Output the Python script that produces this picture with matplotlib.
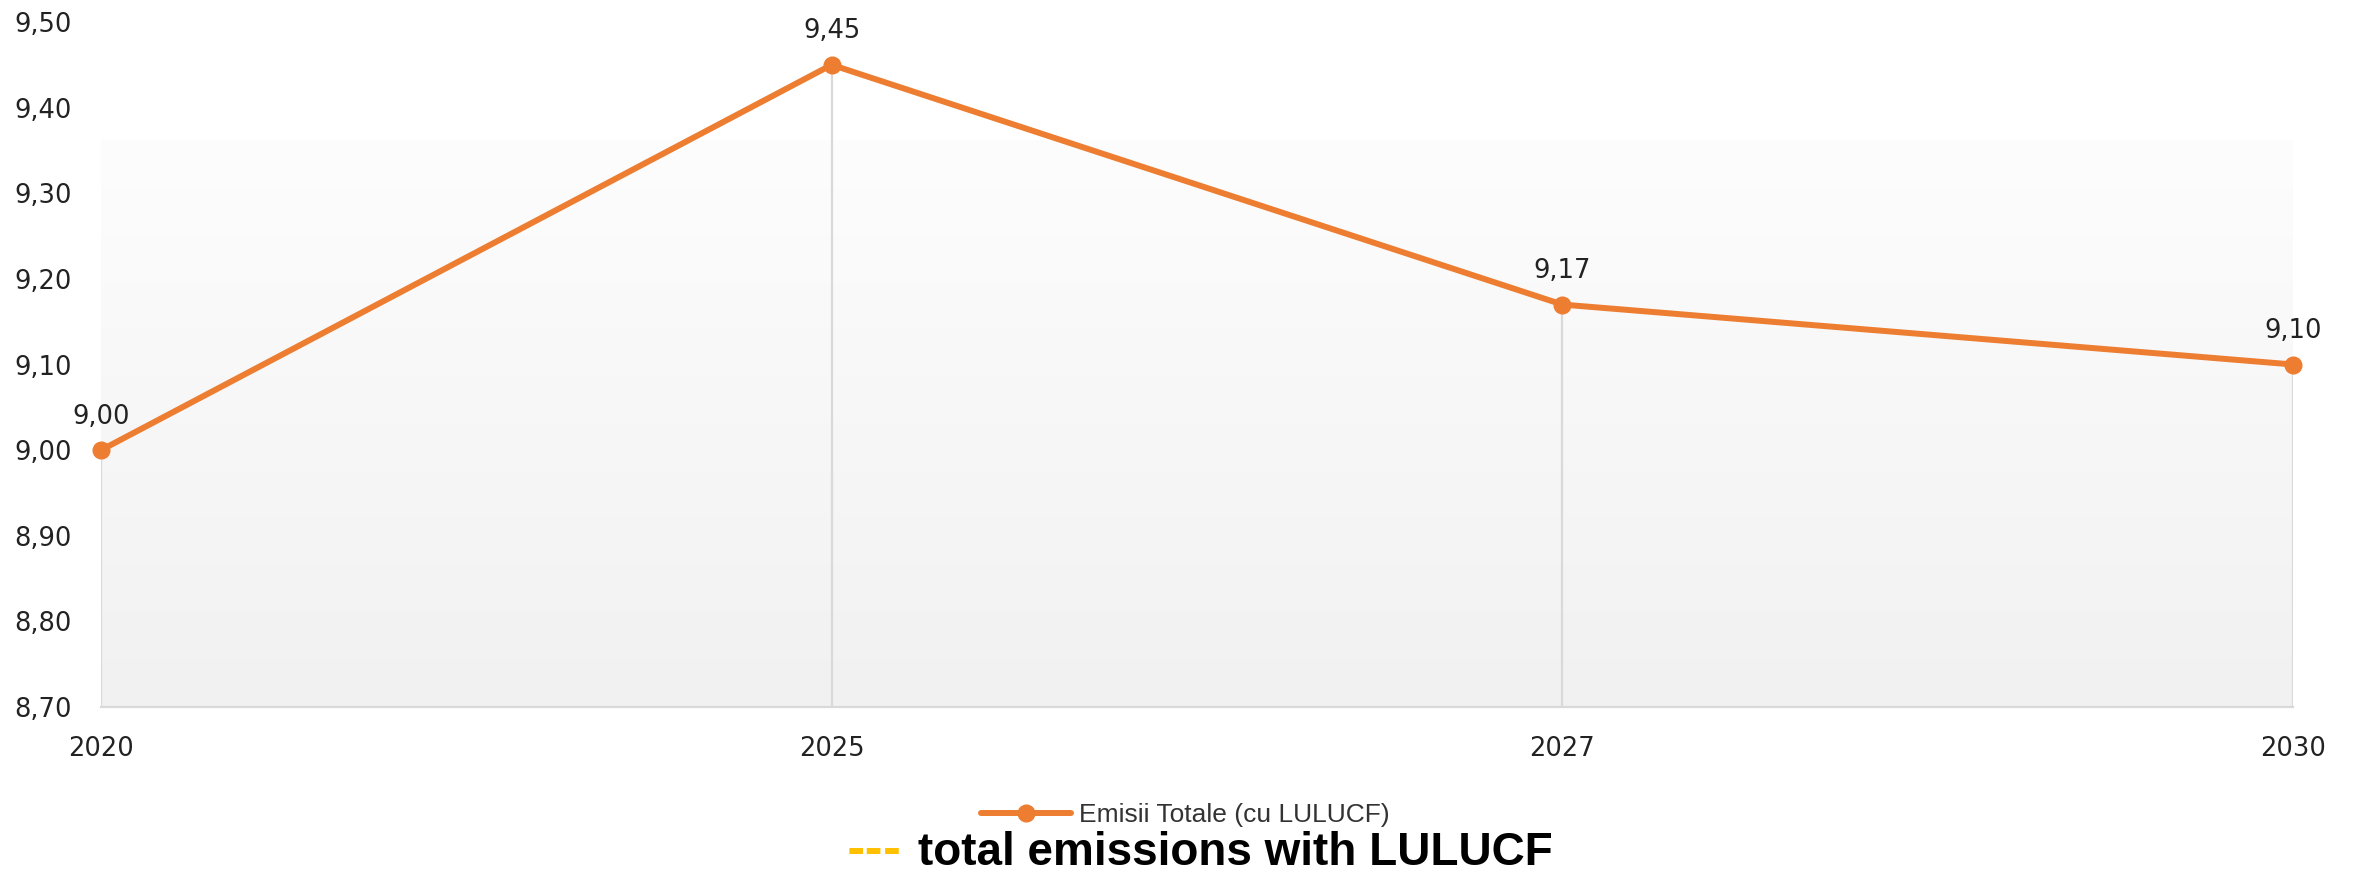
import matplotlib.pyplot as plt
import numpy as np
from matplotlib.colors import LinearSegmentedColormap
from matplotlib.ticker import FuncFormatter

# data
years = ['2020', '2025', '2027', '2030']
emissions = [9.00, 9.45, 9.17, 9.10]
series_label = 'Emisii Totale (cu LULUCF)'
note_text = 'total emissions with LULUCF'

orange = '#ED7D31'
grid_gray = '#d9d9d9'

fig = plt.figure(figsize=(23.56, 8.75), dpi=100)
ax = fig.add_axes([101 / 2356, 1 - 707 / 875, (2293 - 101) / 2356, (707 - 22) / 875])

# soft vertical gradient behind the plot (white at top, light grey at bottom)
grad = np.linspace(1, 0, 256).reshape(-1, 1)
cmap = LinearSegmentedColormap.from_list('bg', ['#f1f1f1', '#fdfdfd'])
ax.imshow(grad, extent=[0, len(years) - 1, 8.70, 9.362], aspect='auto',
          cmap=cmap, zorder=0, origin='upper', interpolation='bicubic')

x = np.arange(len(years))
# drop lines from each point to the bottom
ax.vlines(x, 8.70, emissions, color=grid_gray, lw=1.6, zorder=1)
ax.plot(x, emissions, color=orange, lw=4.3, marker='o', markersize=12,
        label=series_label, zorder=3, solid_capstyle='round', clip_on=False)

for xi, v in zip(x, emissions):
    ax.annotate(f'{v:.2f}'.replace('.', ','), (xi, v), xytext=(0, 19),
                textcoords='offset points', ha='center', va='baseline',
                fontsize=18.5, color='#222222')

ax.set_xlim(0, len(years) - 1)
ax.set_ylim(8.70, 9.50)
ax.set_xticks(x)
ax.set_xticklabels(years)
ax.set_yticks(np.arange(8.70, 9.501, 0.10))
ax.yaxis.set_major_formatter(FuncFormatter(lambda v, p: f'{v:.2f}'.replace('.', ',')))
ax.tick_params(axis='both', length=0, labelsize=18.5, labelcolor='#222222')
ax.tick_params(axis='y', pad=21)
ax.tick_params(axis='x', pad=21)

for s in ['top', 'left', 'right']:
    ax.spines[s].set_visible(False)
ax.spines['bottom'].set_color(grid_gray)
ax.spines['bottom'].set_linewidth(1.6)
ax.set_facecolor('white')

leg = fig.legend(loc='center', bbox_to_anchor=(1185 / 2356, 1 - 815 / 875),
                 frameon=False, handlelength=3.4, handletextpad=0.3,
                 prop={'family': 'Liberation Sans', 'size': 19})
for t in leg.get_texts():
    t.set_color('#333333')

# bottom note with yellow dashes
fig.text(874 / 2356, 1 - 851 / 875, '---', color='#FFC000', fontsize=32,
         fontweight='bold', ha='center', va='center')
fig.text(918 / 2356, 1 - 853 / 875, note_text, color='black', fontsize=33,
         fontweight='bold', ha='left', va='center', family='Liberation Sans')

fig.savefig('out.png', dpi=100)
